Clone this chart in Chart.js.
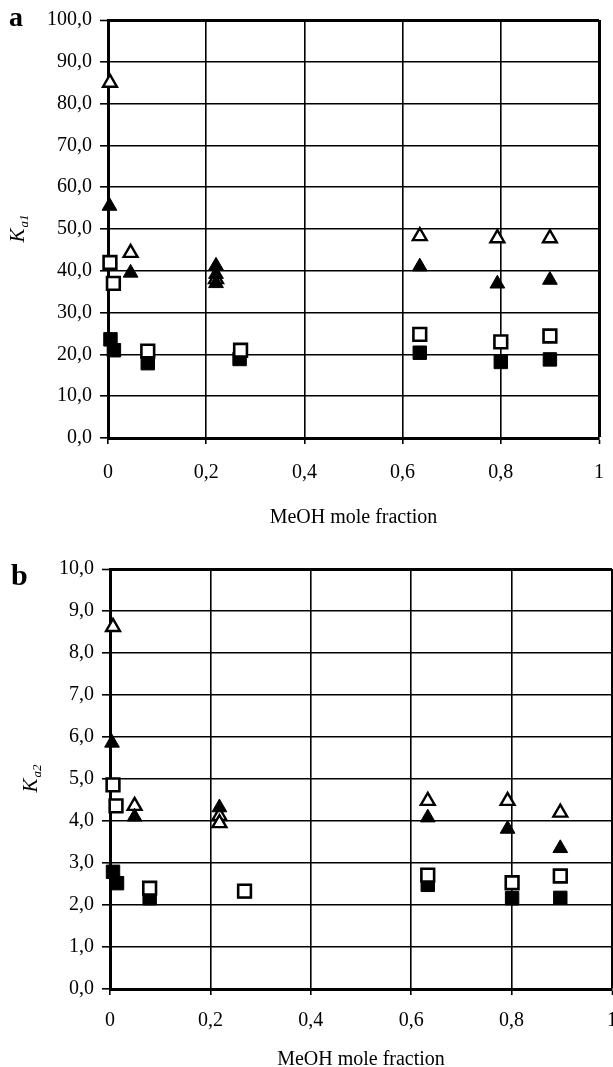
<!DOCTYPE html>
<html>
<head>
<meta charset="utf-8">
<script src="https://cdn.jsdelivr.net/npm/chart.js@4.4.0/dist/chart.umd.min.js"></script>
<style>
body { margin: 0; background: #fff; width: 613px; height: 1067px; overflow: hidden; position: relative; }
.panel { position: absolute; left: 0; width: 613px; overflow: hidden; }
</style>
</head>
<body>
<div class="panel" style="top:0;height:533px"><canvas id="ka1" width="630" height="533"></canvas></div>
<div class="panel" style="top:533px;height:534px"><canvas id="ka2" width="631" height="540"></canvas></div>
<script>
// panel a : Ka1
const openTriA_x = [0.004, 0.046, 0.22, 0.635, 0.793, 0.90];
const openTriA_y = [85.0, 44.3, 38.0, 48.3, 47.8, 47.8];
const fillTriA_x = [0.003, 0.046, 0.22, 0.22, 0.22, 0.635, 0.793, 0.90];
const fillTriA_y = [55.5, 39.5, 41.2, 39.2, 37.0, 41.0, 36.9, 37.8];
const openSqA_x = [0.004, 0.011, 0.081, 0.27, 0.635, 0.80, 0.90];
const openSqA_y = [42.0, 37.0, 20.8, 21.0, 24.8, 23.0, 24.4];
const fillSqA_x = [0.005, 0.012, 0.081, 0.268, 0.635, 0.80, 0.90];
const fillSqA_y = [23.6, 21.0, 17.9, 18.9, 20.4, 18.2, 18.8];

// panel b : Ka2
const openTriB_x = [0.006, 0.049, 0.218, 0.218, 0.633, 0.792, 0.897];
const openTriB_y = [8.62, 4.36, 4.12, 3.95, 4.48, 4.48, 4.20];
const fillTriB_x = [0.004, 0.049, 0.218, 0.633, 0.792, 0.897];
const fillTriB_y = [5.86, 4.10, 4.32, 4.08, 3.81, 3.35];
const openSqB_x = [0.006, 0.012, 0.079, 0.268, 0.633, 0.801, 0.897];
const openSqB_y = [4.86, 4.36, 2.40, 2.33, 2.71, 2.53, 2.69];
const fillSqB_x = [0.006, 0.014, 0.079, 0.268, 0.633, 0.801, 0.897];
const fillSqB_y = [2.79, 2.52, 2.16, 2.33, 2.48, 2.16, 2.17];

const xTitle = 'MeOH mole fraction';

Chart.defaults.font.family = '"Liberation Serif", "Times New Roman", serif';
Chart.defaults.color = '#000';

function pts(xs, ys) {
    return xs.map((x, i) => ({ x: x, y: ys[i] }));
}
function comma(v, d) {
    return (d ? v.toFixed(d) : String(+v.toFixed(1))).replace('.', ',');
}

const panelText = {
    id: 'panelText',
    afterDraw(chart, args, o) {
        const ctx = chart.ctx;
        const a = chart.chartArea;
        ctx.save();
        ctx.fillStyle = '#000';
        ctx.textBaseline = 'alphabetic';
        ctx.font = 'bold ' + o.tagSize + 'px "Liberation Serif"';
        ctx.fillText(o.tag, o.tagX, o.tagY);
        // rotated y title with subscript
        ctx.translate(o.titleX, (a.top + a.bottom) / 2);
        ctx.rotate(-Math.PI / 2);
        ctx.font = 'italic 21px "Liberation Serif"';
        const kw = ctx.measureText('K').width;
        ctx.font = 'italic 13px "Liberation Serif"';
        const sw = ctx.measureText(o.sub).width;
        const x0 = -(kw + sw) / 2;
        ctx.font = 'italic 21px "Liberation Serif"';
        ctx.fillText('K', x0, 0);
        ctx.font = 'italic 13px "Liberation Serif"';
        ctx.fillText(o.sub, x0 + kw + 1, 4);
        ctx.restore();
    }
};

function makeChart(id, sets, yMax, yStep, yWidth, xHeight, pad, tickPad, titlePad, text) {
    const frame = (max) => (c) => (c.tick && Math.abs(c.tick.value - max) < 1e-9 ? 3 : 1.6);
    return new Chart(document.getElementById(id), {
        type: 'scatter',
        data: {
            datasets: [
                { data: pts(sets[1][0], sets[1][1]), pointStyle: 'triangle', pointRadius: 8.5, backgroundColor: '#000', borderColor: '#000', borderWidth: 1, clip: false },
                { data: pts(sets[2][0], sets[2][1]), pointStyle: 'rect', pointRadius: 9, backgroundColor: '#fff', borderColor: '#000', borderWidth: 2.6, clip: false },
                { data: pts(sets[3][0], sets[3][1]), pointStyle: 'rect', pointRadius: 9.5, backgroundColor: '#000', borderColor: '#000', borderWidth: 1, clip: false },
                { data: pts(sets[0][0], sets[0][1]), pointStyle: 'triangle', pointRadius: 8, backgroundColor: '#fff', borderColor: '#000', borderWidth: 2.4, clip: false }
            ]
        },
        options: {
            responsive: false,
            animation: false,
            devicePixelRatio: 1,
            layout: { padding: pad, autoPadding: false },
            plugins: { legend: { display: false }, tooltip: { enabled: false }, panelText: text },
            scales: {
                x: {
                    type: 'linear', min: 0, max: 1,
                    afterFit: (s) => { s.height = xHeight; },
                    ticks: { stepSize: 0.2, padding: tickPad, font: { size: 20 }, callback: (v) => comma(v, 0) },
                    grid: { color: '#000', lineWidth: frame(1), tickLength: 6, tickWidth: 1.6 },
                    border: { color: '#000', width: 3 },
                    title: { display: true, text: xTitle, font: { size: 20 }, padding: { top: 8, bottom: titlePad } }
                },
                y: {
                    type: 'linear', min: 0, max: yMax,
                    afterFit: (s) => { s.width = yWidth; },
                    ticks: { stepSize: yStep, padding: 8, font: { size: 20 }, callback: (v) => comma(v, 1) },
                    grid: { color: '#000', lineWidth: frame(yMax), tickLength: 8, tickWidth: 1.6 },
                    border: { color: '#000', width: 3 }
                }
            }
        },
        plugins: [panelText]
    });
}

makeChart('ka1',
    [[openTriA_x, openTriA_y], [fillTriA_x, fillTriA_y], [openSqA_x, openSqA_y], [fillSqA_x, fillSqA_y]],
    100, 10, 108, 95, { top: 20, right: 31, left: 0, bottom: 0 }, 17, 3,
    { tag: 'a', tagSize: 28, tagX: 9, tagY: 26, titleX: 24, sub: 'a1' });

makeChart('ka2',
    [[openTriB_x, openTriB_y], [fillTriB_x, fillTriB_y], [openSqB_x, openSqB_y], [fillSqB_x, fillSqB_y]],
    10, 1, 110, 84, { top: 36, right: 19, left: 0, bottom: 0 }, 14, 1,
    { tag: 'b', tagSize: 30, tagX: 11, tagY: 52, titleX: 37, sub: 'a2' });
</script>
</body>
</html>
